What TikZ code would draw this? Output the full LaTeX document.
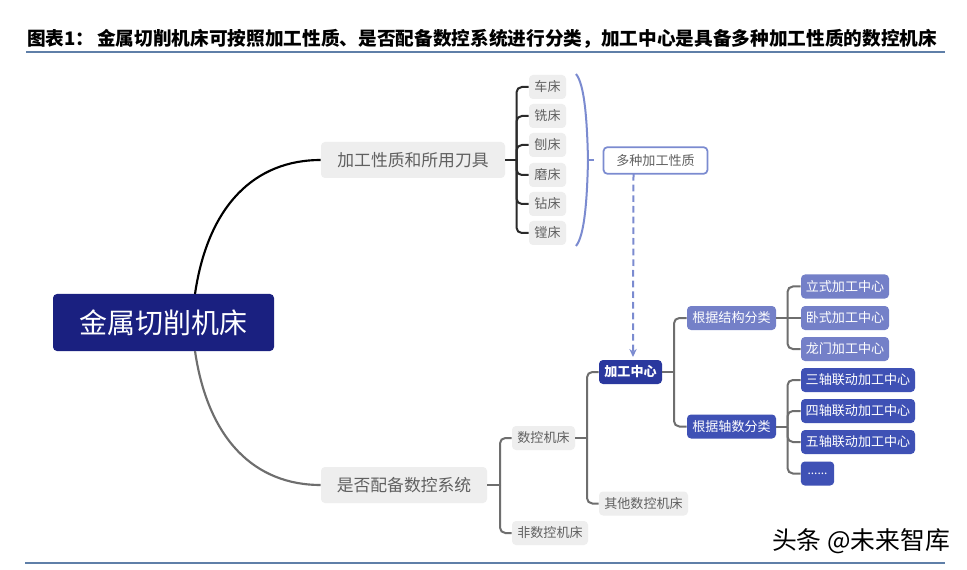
\documentclass[tikz,border=0pt]{standalone}
\usepackage{fontspec}
\setmainfont{Noto Sans CJK SC}
\usetikzlibrary{arrows.meta}
\definecolor{rootc}{HTML}{1A2080}
\definecolor{centerc}{HTML}{2A389E}
\definecolor{lightc}{HTML}{7480C8}
\definecolor{midc}{HTML}{3F51B5}
\definecolor{greyc}{HTML}{EEEEEE}
\definecolor{txtc}{HTML}{606060}
\definecolor{linec}{HTML}{6E6E6E}
\definecolor{darkl}{HTML}{2A2A2A}
\definecolor{bluel}{HTML}{7B8BD0}
\definecolor{rulec}{HTML}{5F7FA8}
\tikzset{
  x=0.75pt,y=-0.75pt,
  boxbase/.style={rounded corners=3pt,inner sep=0pt,align=center},
  rootbox/.style={boxbase,fill=rootc,text=white,minimum width=165.75pt,minimum height=42.75pt,font=\fontsize{21pt}{24pt}\selectfont},
  majorbox/.style={boxbase,fill=greyc,text=txtc,minimum height=27pt,font=\fontsize{12.6pt}{15pt}\selectfont},
  leafbox/.style={boxbase,fill=greyc,text=txtc,minimum height=18pt,font=\fontsize{9.8pt}{12pt}\selectfont},
  propbox/.style={boxbase,draw=bluel,line width=1.3pt,fill=white,text=txtc,minimum width=78pt,minimum height=20pt,font=\fontsize{9.8pt}{12pt}\selectfont},
  centerbox/.style={boxbase,fill=centerc,text=white,minimum width=47.25pt,minimum height=18pt,font=\fontsize{9.8pt}{12pt}\selectfont\bfseries},
  lightbox/.style={boxbase,fill=lightc,text=white,minimum height=18pt,font=\fontsize{9.8pt}{12pt}\selectfont},
  midbox/.style={boxbase,fill=midc,text=white,minimum height=18pt,font=\fontsize{9.8pt}{12pt}\selectfont},
  darklink/.style={draw=darkl,line width=1.5pt,rounded corners=4pt},
  greylink/.style={draw=linec,line width=1.5pt,rounded corners=4pt},
  rulestyle/.style={draw=rulec,line width=1.6pt},
  titletext/.style={inner sep=0pt,anchor=base west,font=\fontsize{14pt}{16pt}\selectfont\bfseries}
}
\begin{document}
\begin{tikzpicture}
\useasboundingbox (0,0) rectangle (967,570);
\fill[white] (0,0) rectangle (967,570);
% title and rules
\node[titletext] (tlabel) at (27,46) {图表1\char"FF1A};
\node[titletext] (ttext) at (97,46) {金属切削机床可按照加工性质、是否配备数控系统进行分类\char"FF0C 加工中心是具备多种加工性质的数控机床};
\coordinate (rta) at (26,52); \coordinate (rtb) at (945,52);
\coordinate (rba) at (25,563); \coordinate (rbb) at (945,563);
\draw[rulestyle] (rta) -- (rtb);
\draw[rulestyle] (rba) -- (rbb);
% nodes
\node[rootbox] (root) at (163.5,322.5) {金属切削机床};
\node[majorbox,minimum width=138pt] (proc) at (413,160) {加工性质和所用刀具};
\node[majorbox,minimum width=124.5pt] (cnc) at (404,485) {是否配备数控系统};
\foreach \n/\t/\y in {a/车床/87,b/铣床/116,c/刨床/145,d/磨床/175,e/钻床/204,f/镗床/233}
  \node[leafbox,minimum width=27.75pt] (l\n) at (547.5,\y) {\t};
\node[propbox] (prop) at (655.5,160.5) {多种加工性质};
\node[centerbox] (center) at (630.5,372) {加工中心};
\node[lightbox,minimum width=66.75pt] (struct) at (731.5,318) {根据结构分类};
\node[midbox,minimum width=66.75pt] (axis) at (731.5,426.5) {根据轴数分类};
\node[lightbox,minimum width=66pt] (s1) at (845,286.5) {立式加工中心};
\node[lightbox,minimum width=66pt] (s2) at (845,318) {卧式加工中心};
\node[lightbox,minimum width=66pt] (s3) at (845,349) {龙门加工中心};
\node[midbox,minimum width=85.5pt] (a1) at (858,380) {三轴联动加工中心};
\node[midbox,minimum width=85.5pt] (a2) at (858,411) {四轴联动加工中心};
\node[midbox,minimum width=85.5pt] (a3) at (858,442) {五轴联动加工中心};
\node[midbox,minimum width=25pt,font=\fontsize{9pt}{10pt}\selectfont] (a4) at (817.5,473.5) {......};
\node[leafbox,minimum width=47.25pt] (nc) at (543.5,438) {数控机床};
\node[leafbox,minimum width=66.75pt] (other) at (643.5,503.5) {其他数控机床};
\node[leafbox,minimum width=57pt] (nonc) at (550,533) {非数控机床};
\node[inner sep=0pt,anchor=center,text=black,font=\fontsize{18.6pt}{22pt}\selectfont] (wmark) at (861,541) {头条 @未来智库};
% root curves
\coordinate (rtop) at (195,294);
\coordinate (rbot) at (195,351);
\draw[draw=black,line width=1.6pt] (rtop) .. controls (208,205) and (255,160) .. (proc.west);
\draw[draw=linec,line width=1.6pt] (rbot) .. controls (208,440) and (255,485) .. (cnc.west);
% machine tree
\coordinate (j1) at (516.5,160);
\draw[darklink] (proc.east) -- (j1);
\foreach \n in {a,b,c,d,e,f} \draw[darklink] (j1) |- (l\n.west);
% brace
\coordinate (bt) at (576,74);
\coordinate (bb) at (576,246);
\coordinate (bm) at (588,160);
\coordinate (btip) at (594,160);
\draw[draw=bluel,line width=1.5pt] (bt) .. controls (584,84) and (587,115) .. (bm) .. controls (587,205) and (584,236) .. (bb);
\draw[draw=bluel,line width=1.5pt] (bm) -- (btip);
% dashed
\coordinate (dtop) at (633.5,174);
\coordinate (dbot) at (633,357);
\draw[draw=bluel,line width=1.5pt,dash pattern=on 5pt off 3pt,-{Stealth[length=6pt,width=5.5pt]}] (dtop) -- (dbot);
% cnc tree
\coordinate (j2) at (500,485);
\draw[greylink] (cnc.east) -- (j2);
\draw[greylink] (j2) |- (nc.west);
\draw[greylink] (j2) |- (nonc.west);
\coordinate (j3) at (587,438);
\draw[greylink] (nc.east) -- (j3);
\draw[greylink] (j3) |- (center.west);
\draw[greylink] (j3) |- (other.west);
\coordinate (j4) at (674,372);
\draw[greylink] (center.east) -- (j4);
\draw[greylink] (j4) |- (struct.west);
\draw[greylink] (j4) |- (axis.west);
\coordinate (j5) at (787.5,318);
\draw[greylink] (struct.east) -- (s2.west);
\draw[greylink] (j5) |- (s1.west);
\draw[greylink] (j5) |- (s3.west);
\coordinate (j6) at (787.5,426.5);
\draw[greylink] (axis.east) -- (j6);
\foreach \n in {a1,a2,a3,a4} \draw[greylink] (j6) |- (\n.west);
\end{tikzpicture}
\end{document}
